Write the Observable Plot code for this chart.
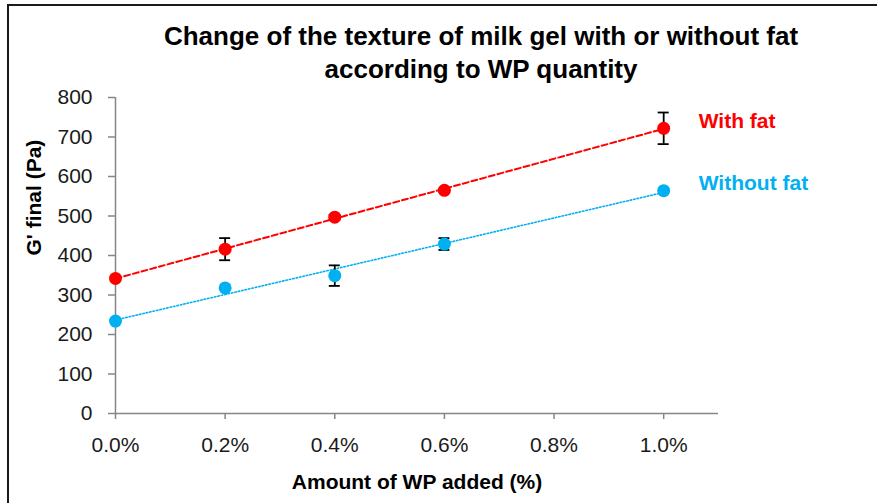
<!DOCTYPE html>
<html>
<head>
<meta charset="utf-8">
<script src="https://cdn.jsdelivr.net/npm/d3@7"></script>
<script src="https://cdn.jsdelivr.net/npm/@observablehq/plot@0.6"></script>
<style>
  html, body { margin: 0; padding: 0; background: #fff; overflow: hidden; }
  #wrap { position: relative; width: 877px; height: 503px; overflow: hidden; font-family: "Liberation Sans", Arial, sans-serif; }
  #border { position: absolute; left: 7px; top: 4px; width: 900px; height: 520px; border: 2px solid #1a1a1a; box-sizing: border-box; }
  #title { position: absolute; left: 0; width: 962px; top: 20px; text-align: center; font-weight: bold; font-size: 26px; line-height: 33px; color: #000; }
  #chart { position: absolute; left: 0; top: 0; }
  #chart svg text { font-size: 21px; }
</style>
</head>
<body>
<div id="wrap">
  <div id="border"></div>
  <div id="chart"></div>
  <div id="title">Change of the texture of milk gel with or without fat<br>according to WP quantity</div>
</div>
<script>
// Data
const wpAmount = [0.0, 0.2, 0.4, 0.6, 1.0];           // % WP added
const withFat = [342, 416, 497, 565, 722];            // G' final (Pa)
const withFatErr = [0, 28, 6, 4, 40];
const withoutFat = [234, 318, 349, 429, 564];
const withoutFatErr = [0, 0, 26, 15, 0];
const seriesNames = ["With fat", "Without fat"];
const seriesColors = ["#FF0000", "#00B0F0"];
const xTicks = [0.0, 0.2, 0.4, 0.6, 0.8, 1.0];
const yTicks = [0, 100, 200, 300, 400, 500, 600, 700, 800];

const rows = [];
wpAmount.forEach((x, i) => {
  rows.push({series: seriesNames[0], x, y: withFat[i], err: withFatErr[i]});
  rows.push({series: seriesNames[1], x, y: withoutFat[i], err: withoutFatErr[i]});
});
const errRows = rows.filter(d => d.err > 0);
const lastRows = seriesNames.map(s => rows.filter(d => d.series === s).at(-1));
const fatRows = rows.filter(d => d.series === seriesNames[0]);
const noFatRows = rows.filter(d => d.series === seriesNames[1]);

const axisGray = "#868686";

const chart = Plot.plot({
  width: 877,
  height: 503,
  marginLeft: 115,
  marginRight: 159,
  marginTop: 97,
  marginBottom: 90,
  style: {fontFamily: "'Liberation Sans', Arial, sans-serif", fontSize: "21px", background: "transparent", color: "#000"},
  x: {domain: [0, 1.1]},
  y: {domain: [0, 800]},
  color: {domain: seriesNames, range: seriesColors},
  marks: [
    Plot.ruleY([0], {stroke: axisGray, strokeWidth: 1.5}),
    Plot.ruleX([0], {stroke: axisGray, strokeWidth: 1.5}),
    Plot.axisX({ticks: xTicks, tickFormat: d => d.toFixed(1) + "%", tickSize: 6, stroke: axisGray, strokeWidth: 1.5, tickPadding: 18, label: null, color: "#1a1a1a"}),
    Plot.axisY({ticks: yTicks, tickSize: 7, stroke: axisGray, strokeWidth: 1.5, tickPadding: 16, label: null, color: "#1a1a1a"}),
    Plot.text(["Amount of WP added (%)"], {frameAnchor: "bottom", dy: 75, fontSize: 21, fontWeight: "bold", fill: "#000"}),
    Plot.text(["G' final (Pa)"], {frameAnchor: "left", dx: -81, rotate: -90, fontSize: 21, fontWeight: "bold", fill: "#000"}),
    Plot.linearRegressionY(fatRows, {x: "x", y: "y", stroke: seriesColors[0], strokeWidth: 2, strokeDasharray: "6,3", ci: 0}),
    Plot.linearRegressionY(noFatRows, {x: "x", y: "y", stroke: seriesColors[1], strokeWidth: 1.6, strokeDasharray: "1.5,2", ci: 0}),
    Plot.ruleX(errRows, {x: "x", y1: d => d.y - d.err, y2: d => d.y + d.err, stroke: "#000", strokeWidth: 1.8}),
    Plot.ruleY(errRows, {y: d => d.y - d.err, x1: "x", x2: "x", insetLeft: -5.5, insetRight: -5.5, stroke: "#000", strokeWidth: 1.8}),
    Plot.ruleY(errRows, {y: d => d.y + d.err, x1: "x", x2: "x", insetLeft: -5.5, insetRight: -5.5, stroke: "#000", strokeWidth: 1.8}),
    Plot.dot(rows, {x: "x", y: "y", fill: "series", r: 6.5}),
    Plot.text(lastRows, {x: "x", y: "y", text: "series", fill: "series", textAnchor: "start", dx: 35, dy: -7, fontSize: 21, fontWeight: "bold"})
  ]
});
document.getElementById("chart").appendChild(chart);
</script>
</body>
</html>
